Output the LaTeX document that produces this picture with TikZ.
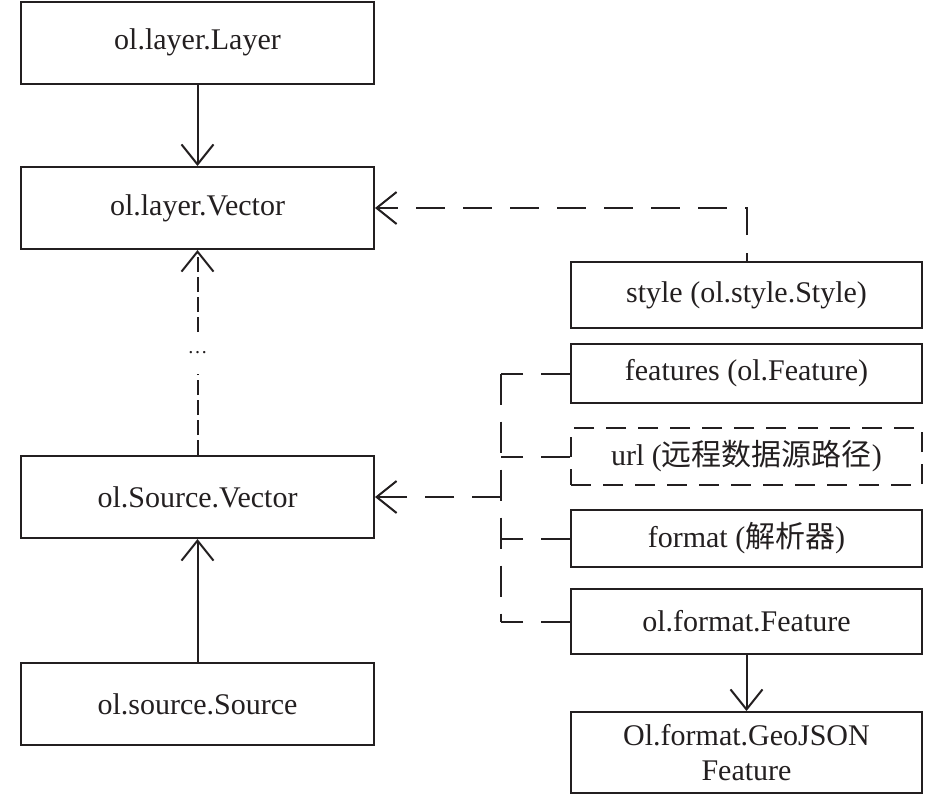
\documentclass[tikz,border=0pt]{standalone}
\usepackage{fontspec}
\setmainfont{Liberation Serif}
\newfontfamily\cjk{Noto Sans CJK SC}
\usetikzlibrary{arrows.meta}
\definecolor{ink}{RGB}{35,31,32}
\begin{document}
\begin{tikzpicture}[x=1pt,y=-1pt,line width=2pt,
  >={Straight Barb[length=20pt,width=32pt]},
  box/.style={draw=ink,line width=2pt,inner sep=0pt,align=center,text=ink,
    font=\fontsize{30}{35}\selectfont},
  lbox/.style={box,minimum width=353pt,minimum height=82pt},
  rbox/.style={box,minimum width=351pt},
  ldash/.style={draw=ink,dash pattern=on 29pt off 18pt},
  vdash/.style={draw=ink,dash pattern=on 31pt off 17pt},
  sdash/.style={draw=ink,dash pattern=on 15pt off 5pt},
  bdash/.style={dash pattern=on 20pt off 12pt},
  solidline/.style={draw=ink}]
\useasboundingbox (0,0) rectangle (946,796);
% left column
\node[lbox] (layer) at (197.5,42.5) {ol.layer.Layer};
\node[lbox] (vec) at (197.5,208) {ol.layer.Vector};
\node[lbox] (src) at (197.5,497) {ol.Source.Vector};
\node[lbox] (ssrc) at (197.5,704) {ol.source.Source};
\node[inner sep=0pt,minimum height=40pt,text=ink,font=\fontsize{20}{24}\selectfont] (dots) at (197.5,353) {\dots};
% right column
\node[rbox,minimum height=66pt] (style) at (746.5,295) {style (ol.style.Style)};
\node[rbox,minimum height=59pt] (feat) at (746.5,373.5) {features (ol.Feature)};
\node[rbox,minimum height=57pt,bdash] (url) at (746.5,456.5) {url ({\cjk 远程数据源路径})};
\node[rbox,minimum height=57pt] (fmt) at (746.5,538.5) {format ({\cjk 解析器})};
\node[rbox,minimum height=65pt] (off) at (746.5,621.5) {ol.format.Feature};
\node[rbox,minimum height=81pt] (geo) at (746.5,752.5) {Ol.format.GeoJSON\\Feature};
\coordinate (bx) at (501,497);
% connectors
\draw[solidline,->] (layer.south) -- (vec.north);
\draw[solidline,->] (ssrc.north) -- (src.south);
\draw[solidline,->] (off.south) -- (geo.north);
\draw[sdash] (src.north) -- (dots.south);
\draw[sdash,->] (dots.north) -- (vec.south);
\draw[ldash,dash phase=21pt,->] (style.north) |- (vec.east);
\draw[ldash] (feat.west) -- (feat.west -| bx);
\draw[ldash] (url.west) -- (url.west -| bx);
\draw[ldash] (fmt.west) -- (fmt.west -| bx);
\draw[ldash] (off.west) -- (off.west -| bx);
\draw[vdash] (feat.west -| bx) -- (off.west -| bx);
\draw[ldash,->] (bx) -- (src.east);
\end{tikzpicture}
\end{document}
